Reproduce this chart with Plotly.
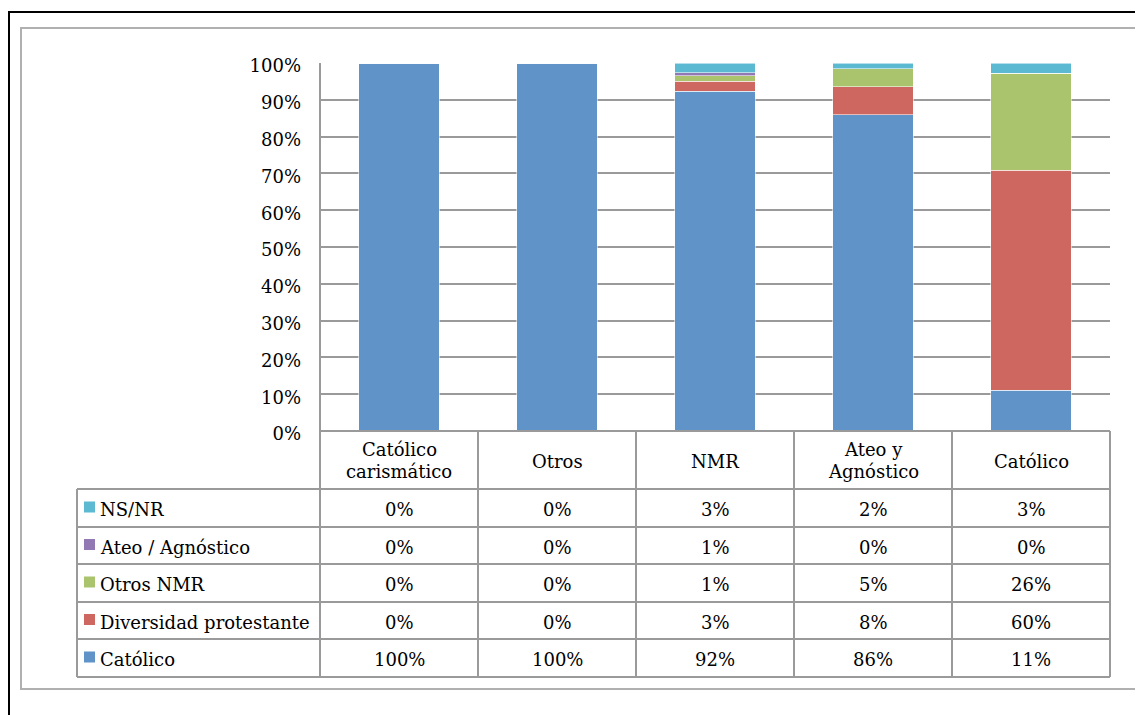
import plotly.graph_objects as go

# ---------------- data ----------------
categories = ["Católico carismático", "Otros", "NMR", "Ateo y Agnóstico", "Católico"]
header_lines = [["Católico", "carismático"], ["Otros"], ["NMR"], ["Ateo y", "Agnóstico"], ["Católico"]]

series_names = ["Católico", "Diversidad protestante", "Otros NMR", "Ateo / Agnóstico", "NS/NR"]
catolico = [100, 100, 92.3, 86.0, 11.1]
diversidad = [0, 0, 2.8, 7.6, 59.7]
otros_nmr = [0, 0, 1.4, 4.8, 26.4]
ateo_agn = [0, 0, 0.9, 0.0, 0.0]
ns_nr = [0, 0, 2.6, 1.6, 2.8]
series_values = [catolico, diversidad, otros_nmr, ateo_agn, ns_nr]
series_colors = ["#6093C7", "#CD675F", "#A9C46D", "#9379B4", "#5BB9D1"]

y_ticks = list(range(0, 101, 10))
y_ticktext = [f"{v}%" for v in y_ticks]

# ---------------- layout geometry (reference pixels) ----------------
OFF = 8  # page body margin offset
W, H = 1143 - OFF, 715 - OFF
L, R, T, B = 320, 1110, 63, 431
PW, PH = R - L, B - T
FONT = "DejaVu Serif"
FS = 18
GRID = "#9A9A9A"
TXT_DY = 1.5


def px_x(p):
    return (p - L) / PW


def px_y(p):
    return (B - p) / PH


fig = go.Figure()
for name, vals, col in zip(series_names, series_values, series_colors):
    fig.add_trace(go.Bar(
        x=categories, y=vals, name=name,
        marker=dict(color=col, line=dict(color="rgba(255,255,255,0.55)", width=1)),
        showlegend=False, hoverinfo="x+y+name",
    ))

shapes = []
annotations = []

# outer frames
shapes.append(dict(type="rect", xref="paper", yref="paper",
                   x0=px_x(9), x1=px_x(1160), y0=px_y(12), y1=px_y(730),
                   line=dict(color="black", width=2)))
shapes.append(dict(type="rect", xref="paper", yref="paper",
                   x0=px_x(21), x1=px_x(1160), y0=px_y(28), y1=px_y(689),
                   line=dict(color="#B0B0B0", width=2)))

# data table structure
row_edges = [431, 489, 527, 564, 602, 639, 677]
table_left = 77
ncat = len(categories)
col_edges = [px_x(L + i * PW / ncat) for i in range(ncat + 1)]

shapes.append(dict(type="line", xref="paper", yref="paper",
                   x0=col_edges[0], x1=col_edges[0], y0=px_y(T), y1=px_y(row_edges[-1]),
                   line=dict(color=GRID, width=2)))
for xe in col_edges[1:]:
    shapes.append(dict(type="line", xref="paper", yref="paper",
                       x0=xe, x1=xe, y0=px_y(row_edges[0]), y1=px_y(row_edges[-1]),
                       line=dict(color=GRID, width=2)))
shapes.append(dict(type="line", xref="paper", yref="paper",
                   x0=px_x(table_left), x1=px_x(table_left),
                   y0=px_y(row_edges[1]), y1=px_y(row_edges[-1]),
                   line=dict(color=GRID, width=2)))
shapes.append(dict(type="line", xref="paper", yref="paper",
                   x0=col_edges[0], x1=col_edges[-1], y0=px_y(row_edges[0]), y1=px_y(row_edges[0]),
                   line=dict(color=GRID, width=2)))
for ye in row_edges[1:]:
    shapes.append(dict(type="line", xref="paper", yref="paper",
                       x0=px_x(table_left), x1=col_edges[-1], y0=px_y(ye), y1=px_y(ye),
                       line=dict(color=GRID, width=2)))

# header labels
hdr_mid = (row_edges[0] + row_edges[1]) / 2 + 0.5
for cat, lines in zip(categories, header_lines):
    if len(lines) == 1:
        annotations.append(dict(x=cat, xref="x", y=px_y(hdr_mid + 1), yref="paper",
                                text=lines[0], showarrow=False, xanchor="center", yanchor="middle",
                                font=dict(family=FONT, size=FS, color="black")))
    else:
        for k, ln in enumerate(lines):
            yy = hdr_mid - 11 + 22 * k
            annotations.append(dict(x=cat, xref="x", y=px_y(yy), yref="paper",
                                    text=ln, showarrow=False, xanchor="center", yanchor="middle",
                                    font=dict(family=FONT, size=FS, color="black")))

# data rows (top row = last series)
row_order = list(range(len(series_names)))[::-1]
for r, si in enumerate(row_order):
    top, bot = row_edges[r + 1], row_edges[r + 2]
    mid = (top + bot) / 2
    shapes.append(dict(type="rect", xref="paper", yref="paper",
                       x0=px_x(84), x1=px_x(95), y0=px_y(mid - 6.5), y1=px_y(mid + 4.5),
                       fillcolor=series_colors[si], line=dict(width=0)))
    annotations.append(dict(x=px_x(98), xref="paper", y=px_y(mid + TXT_DY), yref="paper",
                            text=series_names[si], showarrow=False, xanchor="left", yanchor="middle",
                            font=dict(family=FONT, size=FS, color="black")))
    for cat, v in zip(categories, series_values[si]):
        annotations.append(dict(x=cat, xref="x", y=px_y(mid + TXT_DY), yref="paper",
                                text=f"{int(v + 0.5)}%", showarrow=False,
                                xanchor="center", yanchor="middle",
                                font=dict(family=FONT, size=FS, color="black")))

fig.update_layout(
    width=W, height=H,
    margin=dict(l=L - OFF, r=W - (R - OFF), t=T - OFF, b=H - (B - OFF), pad=0),
    paper_bgcolor="white", plot_bgcolor="white",
    barmode="stack", bargap=0.49,
    shapes=shapes, annotations=annotations,
    xaxis=dict(showticklabels=False, showgrid=False, zeroline=False, showline=False,
               fixedrange=True),
    yaxis=dict(range=[0, 100], tickmode="array", tickvals=y_ticks, ticktext=y_ticktext,
               showgrid=True, gridcolor=GRID, gridwidth=1.5, zeroline=False, showline=False,
               ticks="", ticklabelstandoff=18, ticklabelshift=3,
               tickfont=dict(family=FONT, size=FS, color="black"), fixedrange=True),
)

fig.write_html("out.html")
